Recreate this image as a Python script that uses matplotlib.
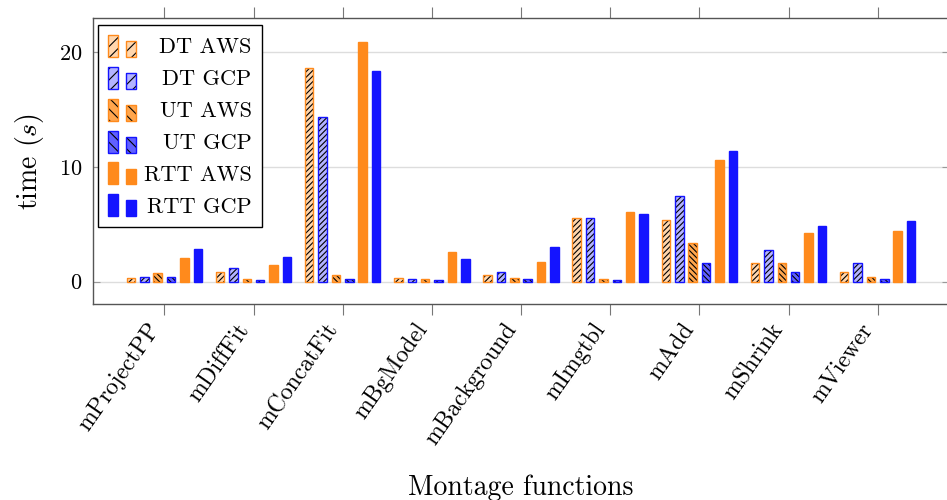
import matplotlib
matplotlib.use('Agg')
import matplotlib.pyplot as plt
from matplotlib.patches import Rectangle
from matplotlib.legend_handler import HandlerBase
import numpy as np

functions = ['mProjectPP', 'mDiffFit', 'mConcatFit', 'mBgModel', 'mBackground',
             'mImgtbl', 'mAdd', 'mShrink', 'mViewer']
dt_aws = [0.35, 0.87, 18.66, 0.30, 0.58, 5.53, 5.35, 1.66, 0.87]
dt_gcp = [0.44, 1.19, 14.33, 0.27, 0.82, 5.58, 7.45, 2.76, 1.60]
ut_aws = [0.73, 0.26, 0.58, 0.27, 0.35, 0.27, 3.35, 1.60, 0.38]
ut_gcp = [0.41, 0.15, 0.26, 0.17, 0.26, 0.12, 1.60, 0.85, 0.20]
rtt_aws = [2.04, 1.43, 20.87, 2.56, 1.74, 6.10, 10.58, 4.27, 4.42]
rtt_gcp = [2.88, 2.18, 18.40, 2.00, 3.05, 5.88, 11.37, 4.86, 5.32]
labels = ['DT AWS', 'DT GCP', 'UT AWS', 'UT GCP', 'RTT AWS', 'RTT GCP']

ORANGE = '#FF8A1C'
BLUE = '#1414FF'
styles = [
    dict(face='#FFD6AD', edge=ORANGE, hatch='//////'),
    dict(face='#B3B3FF', edge=BLUE, hatch='//////'),
    dict(face='#FFA64D', edge=ORANGE, hatch='\\\\\\\\\\\\'),
    dict(face='#6060FF', edge=BLUE, hatch='\\\\\\\\\\\\'),
    dict(face=ORANGE, edge=ORANGE, hatch=None),
    dict(face=BLUE, edge=BLUE, hatch=None),
]
series = [dt_aws, dt_gcp, ut_aws, ut_gcp, rtt_aws, rtt_gcp]

plt.rcParams['font.family'] = ['cmr10', 'DejaVu Serif']
plt.rcParams['mathtext.fontset'] = 'cm'
plt.rcParams['axes.formatter.use_mathtext'] = True
plt.rcParams['hatch.linewidth'] = 0.8

fig = plt.figure(figsize=(9.47, 5.0), dpi=100)
ax = fig.add_axes([93 / 947, 1 - 304.3 / 500, 856 / 947, (304.3 - 18) / 500])

x = np.arange(len(functions))
step = 0.15
width = 0.095
for i, (vals, st) in enumerate(zip(series, styles)):
    pos = x + (i - 2.5) * step
    if st['hatch']:
        ax.bar(pos, vals, width, color=st['face'], edgecolor='black',
               hatch=st['hatch'], linewidth=0, zorder=2)
        ax.bar(pos, vals, width, facecolor='none', edgecolor=st['edge'],
               linewidth=1.0, zorder=3)
    else:
        ax.bar(pos, vals, width, color=st['face'], edgecolor=st['edge'],
               linewidth=1.0, zorder=2)

ax.set_xlim(-0.8, 8.8)
ax.set_ylim(-1.97, 23.0)
ax.set_yticks([0, 10, 20])
ax.set_xticks(x)
ax.set_xticklabels(functions, rotation=55, ha='right', va='bottom',
                   rotation_mode='anchor', fontsize=17)
ax.tick_params(axis='x', direction='out', length=8, width=0.8, color='#777777',
               top=True, pad=12)
ax.tick_params(axis='y', direction='in', length=5, width=0.8, color='#999999',
               right=True, labelsize=16, pad=8)
ax.grid(axis='y', color='#DDDDDD', linewidth=1.0, zorder=0)
ax.set_axisbelow(True)
for s in ax.spines.values():
    s.set_color('#555555')
    s.set_linewidth(1.0)

ax.set_ylabel(r'time ($s$)', fontsize=20, labelpad=9)
ax.set_xlabel('Montage functions', fontsize=20)
ax.xaxis.set_label_coords(0.5, -0.595)


class TwoBarHandler(HandlerBase):
    def __init__(self, st):
        super().__init__()
        self.st = st

    def create_artists(self, legend, orig_handle, xdescent, ydescent,
                       width, height, fontsize, trans):
        st = self.st
        arts = []
        bw = width * 0.36
        specs = [(-xdescent, height), (-xdescent + width * 0.64, height * 0.72)]
        for x0, h in specs:
            y0 = -ydescent
            if st['hatch']:
                hatch = st['hatch'][:3]
                r = Rectangle((x0, y0), bw, h, facecolor=st['face'],
                              edgecolor='black', hatch=hatch,
                              linewidth=0, transform=trans)
                arts.append(r)
                r2 = Rectangle((x0, y0), bw, h, facecolor='none',
                               edgecolor=st['edge'], linewidth=1.0,
                               transform=trans)
                arts.append(r2)
            else:
                r = Rectangle((x0, y0), bw, h, facecolor=st['face'],
                              edgecolor=st['edge'], linewidth=1.0,
                              transform=trans)
                arts.append(r)
        return arts


proxies = [Rectangle((0, 0), 1, 1) for _ in labels]
hmap = {p: TwoBarHandler(st) for p, st in zip(proxies, styles)}
leg = ax.legend(proxies, labels, handler_map=hmap, loc='upper left',
                bbox_to_anchor=(0.006, 0.976), borderaxespad=0,
                fontsize=16, handlelength=1.25, handleheight=1.15,
                handletextpad=0.35, labelspacing=0.42, borderpad=0.45,
                fancybox=False, framealpha=1, edgecolor='black')
leg.get_frame().set_linewidth(1.0)
leg.set_zorder(5)

fig.canvas.draw()
r = fig.canvas.get_renderer()
widths = [t.get_window_extent(r).width for t in leg.get_texts()]
maxw = max(widths)
for t, w in zip(leg.get_texts(), widths):
    t.set_position((maxw - w, 0))

fig.savefig('out.png', dpi=100)
